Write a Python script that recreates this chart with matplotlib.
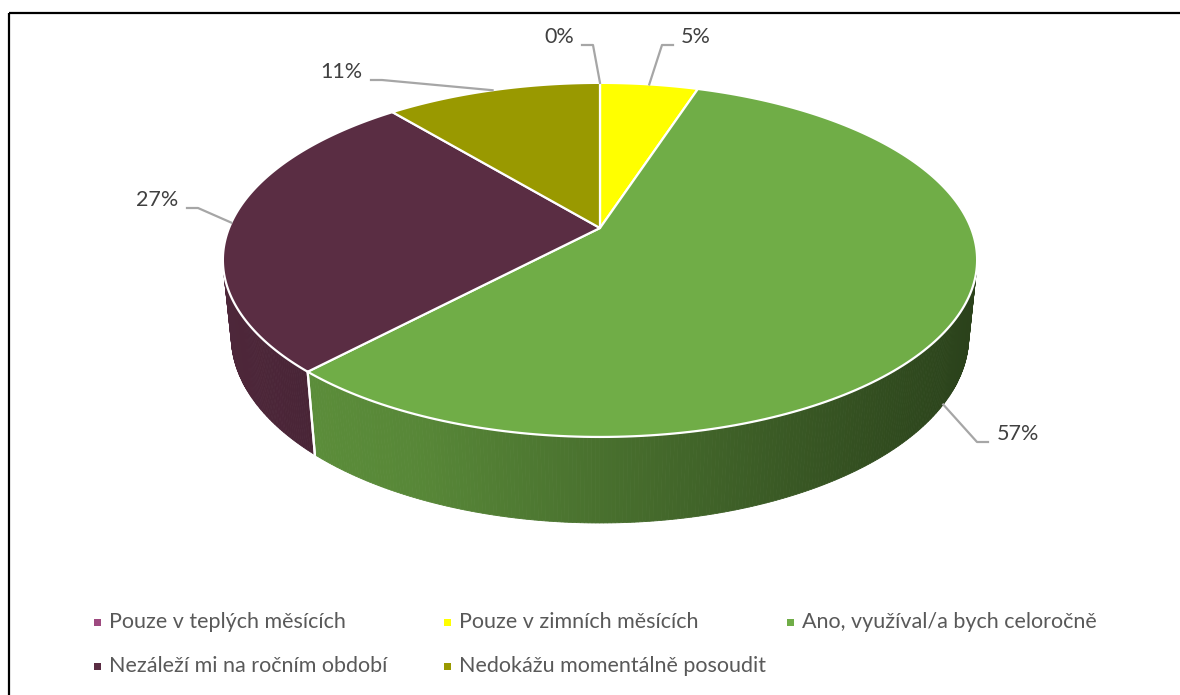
import numpy as np
import matplotlib.pyplot as plt
from matplotlib.patches import Polygon, Rectangle
from matplotlib.colors import to_rgb

plt.rcParams["font.family"] = ["Lato", "DejaVu Sans"]

categories = [
    "Pouze v teplých měsících",
    "Pouze v zimních měsících",
    "Ano, využíval/a bych celoročně",
    "Nezáleží mi na ročním období",
    "Nedokážu momentálně posoudit",
]
shares = [0, 5, 57, 27, 11]
colors = ["#9e4a80", "#ffff00", "#70ad47", "#5a2d43", "#999900"]

# 3D disk seen from above with perspective, projected to pixel space
CX, CY = 600, 228
FOCAL, DIST = 1825, 4.92
ELEV = np.radians(27.5)
THICK = 0.234


def project(x, y, z):
    c, s = np.cos(ELEV), np.sin(ELEV)
    w = DIST + y * c - z * s
    u = y * s + z * c
    return CX + FOCAL * x / w, CY - FOCAL * u / w


def rim(theta_deg, z):
    t = np.radians(theta_deg)
    return project(np.sin(t), np.cos(t), np.full_like(t, z, dtype=float))


def shade(color, f):
    r, g, b = to_rgb(color)
    return (r * f, g * f, b * f)


fig = plt.figure(figsize=(11.8, 6.95), dpi=100)
ax = fig.add_axes([0, 0, 1, 1])
ax.set_xlim(0, 1180)
ax.set_ylim(695, 0)
ax.axis("off")

# chart border
ax.plot([9, 1180], [13, 13], color="black", lw=1.6, solid_capstyle="butt")
ax.plot([9, 9], [13, 695], color="black", lw=1.6, solid_capstyle="butt")

total = sum(shares)
edges = np.concatenate([[0], np.cumsum(shares)]) / total * 360.0
t_vis = np.degrees(np.arccos(-1.0 / (DIST * np.cos(ELEV))))

# outer walls (only the front part faces the viewer)
for i, col in enumerate(colors):
    a0, a1 = max(edges[i], t_vis), min(edges[i + 1], 360 - t_vis)
    if a1 <= a0:
        continue
    n = max(int((a1 - a0) * 2), 2)
    ts = np.linspace(a0, a1, n + 1)
    xt, yt = rim(ts, 0.0)
    xb, yb = rim(ts, -THICK)
    for k in range(n):
        xm = (xt[k] + xt[k + 1]) / 2
        f = np.interp(xm, [230, 420, 975], [0.84, 0.78, 0.38])
        if col == "#5a2d43":
            f = np.interp(xm, [230, 320], [0.86, 0.80])
        fc = shade(col, f)
        quad = [(xt[k], yt[k]), (xt[k + 1], yt[k + 1]),
                (xb[k + 1], yb[k + 1]), (xb[k], yb[k])]
        ax.add_patch(Polygon(quad, closed=True, fc=fc, ec=fc, lw=0.6))
    # seams between neighbouring walls
    for t in (edges[i], edges[i + 1]):
        if t_vis < t < 360 - t_vis:
            xs, ys = rim(np.array([t, t]), 0.0)
            xe, ye = rim(np.array([t, t]), -THICK)
            ax.plot([xs[0], xe[0]], [ys[0], ye[0]], color="white", lw=1.6)

# top faces
for i, col in enumerate(colors):
    if shares[i] == 0:
        continue
    ts = np.linspace(edges[i], edges[i + 1], 200)
    xs, ys = rim(ts, 0.0)
    pts = [(CX, CY)] + list(zip(xs, ys))
    ax.add_patch(Polygon(pts, closed=True, fc=col, ec="white", lw=1.6,
                         joinstyle="round"))

# data labels with leader lines
label_text = [f"{v}%" for v in shares]
label_xy = [(559, 44), (696, 44), (1018, 441), (157, 207), (341, 79)]
label_side = ["right", "left", "left", "right", "right"]
lead_len = 11
for i, v in enumerate(shares):
    mid = (edges[i] + edges[i + 1]) / 2
    t = np.radians(mid)
    z = -THICK if np.cos(t) < -1.0 / (DIST * np.cos(ELEV)) else 0.0
    px, py = project(np.sin(t), np.cos(t), z)
    tx, ty = label_xy[i]
    ax.text(tx, ty - 1, label_text[i], ha="center", va="baseline",
            fontsize=15.5, color="#404040")
    w_half = 10 + 7 * len(label_text[i])
    if label_side[i] == "right":
        hx0 = tx + w_half - 1
        hx1 = hx0 + lead_len
    else:
        hx0 = tx - w_half + 1
        hx1 = hx0 - lead_len
    ax.plot([hx0, hx1, px], [ty + 1, ty + 1, py], color="#a6a6a6", lw=1.6)

# legend, two rows
legend_xy = [(97, 622), (447, 622), (790, 622), (97, 666), (447, 666)]
for (lx, ly), name, col in zip(legend_xy, categories, colors):
    ax.add_patch(Rectangle((lx - 3.5, ly - 3.5), 7, 7, fc=col, ec="none"))
    ax.text(lx + 12, ly, name, ha="left", va="center", fontsize=15.5,
            color="#595959")

fig.savefig("out.png", dpi=100)
plt.close(fig)
